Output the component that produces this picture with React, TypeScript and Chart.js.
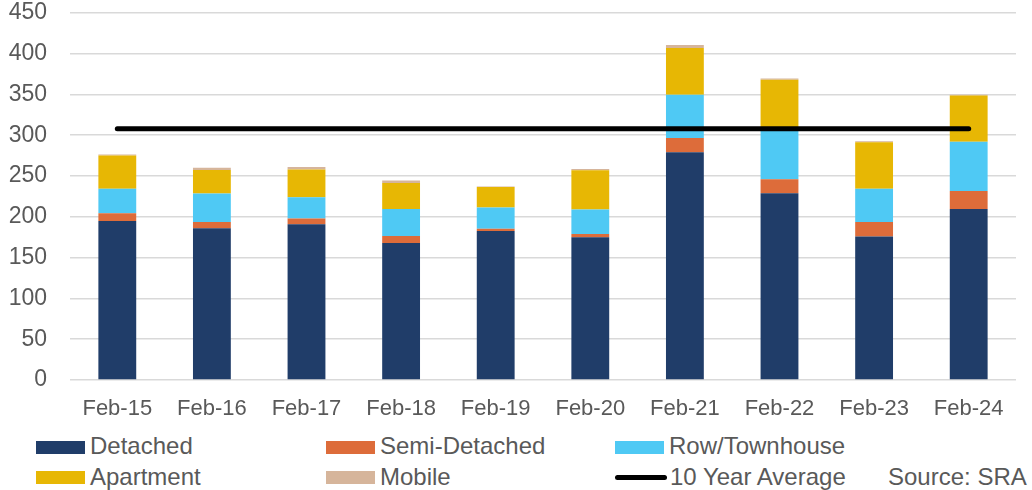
import React, { useEffect, useRef } from "react";
import { Chart, registerables } from "chart.js";

Chart.register(...registerables);

const categories = ["Feb-15", "Feb-16", "Feb-17", "Feb-18", "Feb-19", "Feb-20", "Feb-21", "Feb-22", "Feb-23", "Feb-24"];
const detached = [195, 186, 191, 168, 182.5, 175, 279, 229, 176, 209.5];
const semiDetached = [9.5, 7.5, 7, 8.5, 3, 4, 17.5, 17, 17.5, 22];
const rowTownhouse = [30, 35, 26, 33, 26, 30, 53, 60, 41, 60.5];
const apartment = [40.5, 29, 34, 32, 25, 48, 57.5, 62, 57, 56.5];
const mobile = [1.5, 2.5, 3, 3, 0.5, 1.5, 3.5, 1.5, 1, 1];
const tenYearAverage = [308, 308, 308, 308, 308, 308, 308, 308, 308, 308];
const yTicks = [0, 50, 100, 150, 200, 250, 300, 350, 400, 450];

const COLORS = {
  detached: "#203D69",
  semi: "#DD6C3A",
  row: "#4FC9F4",
  apt: "#E7B704",
  mobile: "#D6B59B",
};

const FONT = '"Liberation Sans", Arial, sans-serif';
const TEXT = "#595959";
const CANVAS_OFFSET = 24;

export default function App() {
  const ref = useRef<HTMLCanvasElement | null>(null);

  useEffect(() => {
    const canvas = ref.current;
    if (!canvas) return;
    const chart = new Chart(canvas, {
      type: "bar",
      data: {
        labels: categories,
        datasets: [
          { label: "Detached", data: detached, backgroundColor: COLORS.detached, stack: "s" },
          { label: "Semi-Detached", data: semiDetached, backgroundColor: COLORS.semi, stack: "s" },
          { label: "Row/Townhouse", data: rowTownhouse, backgroundColor: COLORS.row, stack: "s" },
          { label: "Apartment", data: apartment, backgroundColor: COLORS.apt, stack: "s" },
          { label: "Mobile", data: mobile, backgroundColor: COLORS.mobile, stack: "s" },
          {
            type: "line",
            label: "10 Year Average",
            data: tenYearAverage,
            borderColor: "#000000",
            backgroundColor: "#000000",
            borderWidth: 5,
            borderCapStyle: "round",
            pointRadius: 0,
            stack: "avg",
            order: -1,
          } as any,
        ],
      },
      options: {
        responsive: false,
        animation: false,
        devicePixelRatio: 1,
        layout: { padding: { top: 12, right: 16, left: 0, bottom: 0 } },
        plugins: { legend: { display: false }, tooltip: { enabled: false } },
        datasets: { bar: { barPercentage: 0.4, categoryPercentage: 1, borderWidth: 0 } },
        scales: {
          x: {
            stacked: true,
            grid: { display: false, drawTicks: false },
            border: { display: false },
            ticks: { color: TEXT, font: { family: FONT, size: 22 }, padding: 16, maxRotation: 0 },
            afterFit: (s: any) => { s.height = 50; },
          },
          y: {
            stacked: true,
            min: 0,
            max: 450,
            afterBuildTicks: (s: any) => { s.ticks = yTicks.map((v) => ({ value: v })); },
            grid: { color: "#D9D9D9", lineWidth: 1.5, drawTicks: false },
            border: { display: false },
            ticks: { color: TEXT, font: { family: FONT, size: 23 }, padding: 23 },
            afterFit: (s: any) => { s.width = 70; },
          },
        },
      },
    });
    return () => chart.destroy();
  }, []);

  const textStyle: React.CSSProperties = {
    position: "absolute",
    fontFamily: FONT,
    fontSize: 24,
    lineHeight: "24px",
    color: TEXT,
    whiteSpace: "nowrap",
  };
  const sw = (x: number, y: number, c: string) => (
    <div style={{ position: "absolute", left: x, top: y, width: 49, height: 13, background: c }} />
  );
  const row1Top = 434;
  const row2Top = 465;

  return (
    <div style={{ position: "absolute", left: 0, top: 0, width: 1032, height: 490, background: "#fff", overflow: "hidden" }}>
      <canvas
        ref={ref}
        width={1032}
        height={430 + CANVAS_OFFSET}
        style={{ position: "absolute", left: 0, top: -CANVAS_OFFSET, width: 1032, height: 430 + CANVAS_OFFSET }}
      />
      {sw(36, 441, COLORS.detached)}
      <div style={{ ...textStyle, left: 90, top: row1Top }}>Detached</div>
      {sw(326, 441, COLORS.semi)}
      <div style={{ ...textStyle, left: 380, top: row1Top }}>Semi-Detached</div>
      {sw(615, 441, COLORS.row)}
      <div style={{ ...textStyle, left: 669, top: row1Top }}>Row/Townhouse</div>
      {sw(36, 471, COLORS.apt)}
      <div style={{ ...textStyle, left: 90, top: row2Top }}>Apartment</div>
      {sw(326, 471, COLORS.mobile)}
      <div style={{ ...textStyle, left: 380, top: row2Top }}>Mobile</div>
      <div style={{ position: "absolute", left: 615, top: 475, width: 52, height: 5, borderRadius: 3, background: "#000" }} />
      <div style={{ ...textStyle, left: 670, top: row2Top }}>10 Year Average</div>
      <div style={{ ...textStyle, left: 888, top: row2Top }}>Source: SRA</div>
    </div>
  );
}
